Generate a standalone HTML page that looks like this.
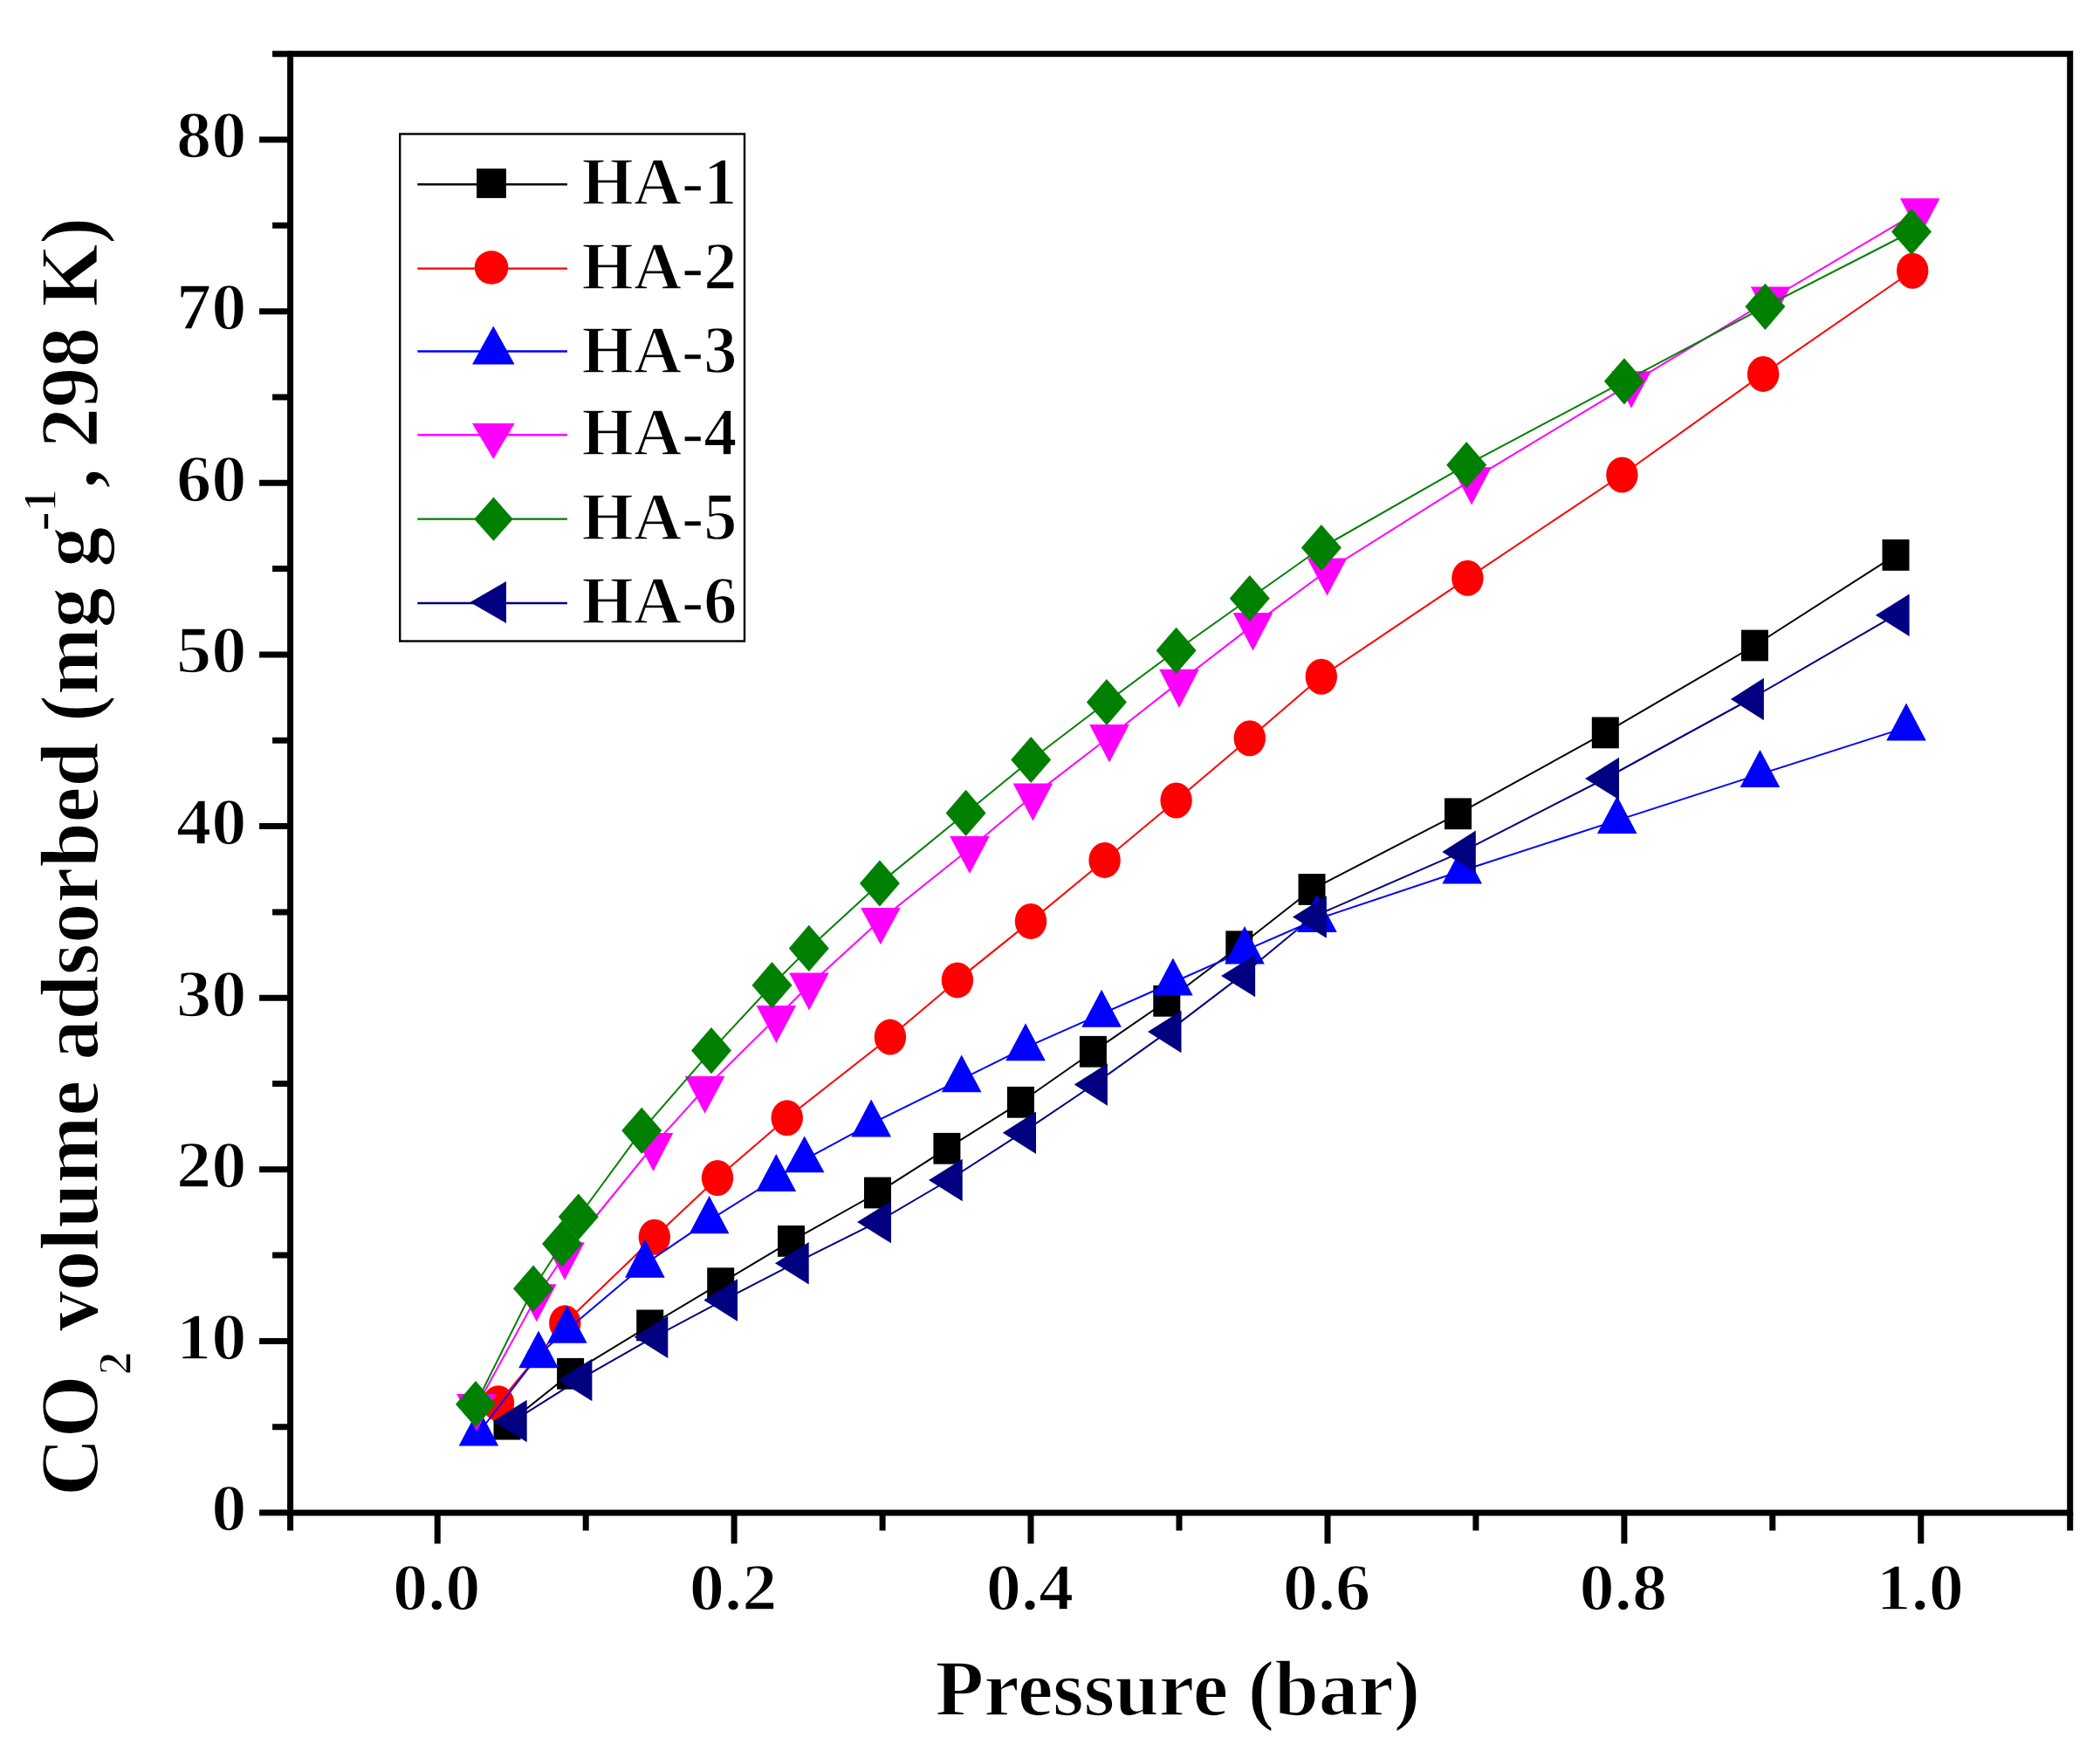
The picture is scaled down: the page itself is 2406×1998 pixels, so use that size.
<!DOCTYPE html>
<html><head><meta charset="utf-8"><title>CO2 adsorption isotherms</title>
<style>html,body{margin:0;padding:0;background:#fff;overflow:hidden}svg{display:block}</style>
</head><body>
<svg width="2406" height="1998" viewBox="0 0 2406 1998">
<rect width="2406" height="1998" fill="#ffffff"/>
<polyline fill="none" stroke="#000000" stroke-width="2.0" stroke-linejoin="round" points="581,1631.6 653.6,1573.8 744.7,1518.4 825.7,1470.2 906.5,1421.9 1005.5,1366.5 1084.9,1315.8 1169.4,1262.8 1252.4,1204.8 1336.8,1146.8 1419.8,1084.3 1503,1019 1670.5,932.3 1839.3,839.4 2010.4,739.5 2172,635.9"/>
<g fill="#000000"><rect x="565.5" y="1613.7" width="31" height="35.8"/><rect x="638.1" y="1555.9" width="31" height="35.8"/><rect x="729.2" y="1500.5" width="31" height="35.8"/><rect x="810.2" y="1452.3" width="31" height="35.8"/><rect x="891" y="1404" width="31" height="35.8"/><rect x="990" y="1348.6" width="31" height="35.8"/><rect x="1069.4" y="1297.9" width="31" height="35.8"/><rect x="1153.9" y="1244.9" width="31" height="35.8"/><rect x="1236.9" y="1186.9" width="31" height="35.8"/><rect x="1321.3" y="1128.9" width="31" height="35.8"/><rect x="1404.3" y="1066.4" width="31" height="35.8"/><rect x="1487.5" y="1001.1" width="31" height="35.8"/><rect x="1655" y="914.4" width="31" height="35.8"/><rect x="1823.8" y="821.5" width="31" height="35.8"/><rect x="1994.9" y="721.6" width="31" height="35.8"/><rect x="2156.5" y="618" width="31" height="35.8"/></g>
<polyline fill="none" stroke="#FF0000" stroke-width="2.0" stroke-linejoin="round" points="571,1607.7 647.3,1515.7 749.8,1417.3 822,1349.5 901.7,1280.7 1019.9,1188.1 1096.9,1122.9 1181,1055.4 1265.6,985.4 1347.6,917 1431.8,845.7 1513.8,775.2 1681.4,662.3 1858.4,544 2020.1,428.4 2191.2,310.2"/>
<g fill="#FF0000"><ellipse cx="571" cy="1607.7" rx="18.2" ry="20.5"/><ellipse cx="647.3" cy="1515.7" rx="18.2" ry="20.5"/><ellipse cx="749.8" cy="1417.3" rx="18.2" ry="20.5"/><ellipse cx="822" cy="1349.5" rx="18.2" ry="20.5"/><ellipse cx="901.7" cy="1280.7" rx="18.2" ry="20.5"/><ellipse cx="1019.9" cy="1188.1" rx="18.2" ry="20.5"/><ellipse cx="1096.9" cy="1122.9" rx="18.2" ry="20.5"/><ellipse cx="1181" cy="1055.4" rx="18.2" ry="20.5"/><ellipse cx="1265.6" cy="985.4" rx="18.2" ry="20.5"/><ellipse cx="1347.6" cy="917" rx="18.2" ry="20.5"/><ellipse cx="1431.8" cy="845.7" rx="18.2" ry="20.5"/><ellipse cx="1513.8" cy="775.2" rx="18.2" ry="20.5"/><ellipse cx="1681.4" cy="662.3" rx="18.2" ry="20.5"/><ellipse cx="1858.4" cy="544" rx="18.2" ry="20.5"/><ellipse cx="2020.1" cy="428.4" rx="18.2" ry="20.5"/><ellipse cx="2191.2" cy="310.2" rx="18.2" ry="20.5"/></g>
<polyline fill="none" stroke="#0000FF" stroke-width="2.0" stroke-linejoin="round" points="548.4,1641.5 617,1552.3 649.8,1523.6 738.9,1448.2 812.6,1398.1 889.3,1350 921.7,1328.6 998.2,1287.4 1101.7,1236.3 1175,1200.2 1262.1,1161.7 1343.9,1125.5 1426,1089.2 1509,1053 1675.2,997.5 1852.7,939.9 2016.5,886.9 2184,833.4"/>
<g fill="#0000FF"><polygon points="548.4,1613.5 571.2,1656.5 525.6,1656.5"/><polygon points="617,1524.5 639.8,1567.2 594.2,1567.2"/><polygon points="649.8,1495.6 672.6,1538.7 627,1538.7"/><polygon points="738.9,1419.5 761.7,1463.7 716.1,1463.7"/><polygon points="812.6,1370.1 835.4,1413.2 789.8,1413.2"/><polygon points="889.3,1322 912.1,1365.1 866.5,1365.1"/><polygon points="921.7,1301.4 944.5,1343.3 898.9,1343.3"/><polygon points="998.2,1259.5 1021,1302.4 975.4,1302.4"/><polygon points="1101.7,1208.5 1124.5,1251.2 1078.9,1251.2"/><polygon points="1175,1172.3 1197.8,1215.2 1152.2,1215.2"/><polygon points="1262.1,1133.8 1284.9,1176.7 1239.3,1176.7"/><polygon points="1343.9,1097.5 1366.7,1140.6 1321.1,1140.6"/><polygon points="1426,1061.1 1448.8,1104.4 1403.2,1104.4"/><polygon points="1509,1025.1 1531.8,1068.1 1486.2,1068.1"/><polygon points="1675.2,969.5 1698,1012.5 1652.4,1012.5"/><polygon points="1852.7,911.9 1875.5,954.9 1829.9,954.9"/><polygon points="2016.5,858.9 2039.3,902 1993.7,902"/><polygon points="2184,805.6 2206.8,848.4 2161.2,848.4"/></g>
<polyline fill="none" stroke="#FF00FF" stroke-width="2.0" stroke-linejoin="round" points="546,1611.1 614.8,1485.5 647,1437.5 748.5,1312.5 807.6,1247 889.4,1166.2 927,1128.8 1008.9,1053.9 1111,972.2 1183.4,911.6 1271,844.3 1351,781.4 1435.5,716.4 1520.5,653.8 1686,549.6 1869,439.2 2028.6,342.6 2199.7,241.5"/>
<g fill="#FF00FF"><polygon points="523.2,1596.9 568.8,1596.9 546,1639.8"/><polygon points="592,1471.3 637.6,1471.3 614.8,1514.3"/><polygon points="624.2,1423.3 669.8,1423.3 647,1466.4"/><polygon points="725.7,1298 771.3,1298 748.5,1342"/><polygon points="784.8,1232.9 830.4,1232.9 807.6,1275.7"/><polygon points="866.6,1152 912.2,1152 889.4,1195"/><polygon points="904.2,1114.6 949.8,1114.6 927,1157.6"/><polygon points="986.1,1040 1031.7,1040 1008.9,1082.2"/><polygon points="1088.2,958 1133.8,958 1111,1001"/><polygon points="1160.6,897.4 1206.2,897.4 1183.4,940.5"/><polygon points="1248.2,829.9 1293.8,829.9 1271,873.5"/><polygon points="1328.2,766.8 1373.8,766.8 1351,810.9"/><polygon points="1412.7,702.1 1458.3,702.1 1435.5,745.5"/><polygon points="1497.7,639.6 1543.3,639.6 1520.5,682.5"/><polygon points="1663.2,535.3 1708.8,535.3 1686,578.6"/><polygon points="1846.2,425.2 1891.8,425.2 1869,467.7"/><polygon points="2005.8,328.4 2051.4,328.4 2028.6,371.4"/><polygon points="2176.9,227.3 2222.5,227.3 2199.7,270.3"/></g>
<polyline fill="none" stroke="#008000" stroke-width="2.0" stroke-linejoin="round" points="545,1608.7 611,1476.2 644,1425 662.8,1394 735.2,1295.3 815,1203.6 884.5,1128.7 926.8,1086.4 1007.9,1012 1106.6,931.4 1181.2,870.5 1267.9,804.5 1347.6,745.3 1431.8,685.5 1513.9,627.5 1680.2,532.7 1860.9,436.8 2022.4,351.3 2190,265.5"/>
<g fill="#008000"><polygon points="545,1582.1 568,1608.7 545,1635.3 522,1608.7"/><polygon points="611,1449.6 634,1476.2 611,1502.8 588,1476.2"/><polygon points="644,1398.4 667,1425 644,1451.6 621,1425"/><polygon points="662.8,1367.4 685.8,1394 662.8,1420.6 639.8,1394"/><polygon points="735.2,1268.7 758.2,1295.3 735.2,1321.9 712.2,1295.3"/><polygon points="815,1177 838,1203.6 815,1230.2 792,1203.6"/><polygon points="884.5,1102.1 907.5,1128.7 884.5,1155.3 861.5,1128.7"/><polygon points="926.8,1059.8 949.8,1086.4 926.8,1113 903.8,1086.4"/><polygon points="1007.9,985.4 1030.9,1012 1007.9,1038.6 984.9,1012"/><polygon points="1106.6,904.8 1129.6,931.4 1106.6,958 1083.6,931.4"/><polygon points="1181.2,843.9 1204.2,870.5 1181.2,897.1 1158.2,870.5"/><polygon points="1267.9,777.9 1290.9,804.5 1267.9,831.1 1244.9,804.5"/><polygon points="1347.6,718.7 1370.6,745.3 1347.6,771.9 1324.6,745.3"/><polygon points="1431.8,658.9 1454.8,685.5 1431.8,712.1 1408.8,685.5"/><polygon points="1513.9,600.9 1536.9,627.5 1513.9,654.1 1490.9,627.5"/><polygon points="1680.2,506.1 1703.2,532.7 1680.2,559.3 1657.2,532.7"/><polygon points="1860.9,410.2 1883.9,436.8 1860.9,463.4 1837.9,436.8"/><polygon points="2022.4,324.7 2045.4,351.3 2022.4,377.9 1999.4,351.3"/><polygon points="2190,238.9 2213,265.5 2190,292.1 2167,265.5"/></g>
<polyline fill="none" stroke="#000080" stroke-width="2.0" stroke-linejoin="round" points="587.8,1628.1 662.5,1581.1 749.4,1531.7 829.2,1489.4 910.8,1447.2 1005,1400.1 1086.8,1352 1171.3,1297.7 1253.2,1242.5 1337.7,1182.1 1422.1,1117.9 1503.9,1050.5 1675,975.9 1839.1,892 2005.3,801 2171.7,704.7"/>
<g fill="#000080"><polygon points="564.9,1628.1 603.7,1603.8 603.7,1652.3"/><polygon points="639.7,1581.1 678.4,1556.8 678.4,1605.3"/><polygon points="726.6,1531.7 765.3,1507.5 765.3,1556"/><polygon points="806.4,1489.4 845,1465.2 845,1513.7"/><polygon points="888,1447.2 926.7,1423 926.7,1471.5"/><polygon points="982,1400.1 1021,1375.8 1021,1424.3"/><polygon points="1064,1352 1102.7,1327.8 1102.7,1376.2"/><polygon points="1148.8,1297.7 1187,1273.5 1187,1322"/><polygon points="1230.7,1242.5 1268.9,1218.2 1268.9,1266.8"/><polygon points="1315,1182.1 1353.5,1157.8 1353.5,1206.3"/><polygon points="1399.1,1117.9 1438.1,1093.7 1438.1,1142.2"/><polygon points="1481,1050.5 1519.8,1026.2 1519.8,1074.8"/><polygon points="1652.3,975.9 1690.8,951.6 1690.8,1000.1"/><polygon points="1816.1,892 1855,867.8 1855,916.2"/><polygon points="1982.9,801 2020.9,776.8 2020.9,825.2"/><polygon points="2148.9,704.7 2187.6,680.5 2187.6,729"/></g>
<g stroke="#000" stroke-width="7.0" fill="none" stroke-linecap="square">
<rect x="332.6" y="61.7" width="2039.1" height="1671.4" stroke-linecap="butt" stroke-linejoin="miter"/>
</g>
<path d="M297.1 1733.1H332.6M297.1 1536.5H332.6M297.1 1339.8H332.6M297.1 1143.2H332.6M297.1 946.6H332.6M297.1 749.9H332.6M297.1 553.3H332.6M297.1 356.7H332.6M297.1 160H332.6M312.1 1634.8H332.6M312.1 1438.1H332.6M312.1 1241.5H332.6M312.1 1044.9H332.6M312.1 848.2H332.6M312.1 651.6H332.6M312.1 455H332.6M312.1 258.3H332.6M312.1 61.7H332.6M501.2 1733.1V1768.6M841.1 1733.1V1768.6M1181 1733.1V1768.6M1521 1733.1V1768.6M1860.9 1733.1V1768.6M2200.8 1733.1V1768.6M332.6 1733.1V1753.6M671.2 1733.1V1753.6M1011.1 1733.1V1753.6M1351 1733.1V1753.6M1690.9 1733.1V1753.6M2030.8 1733.1V1753.6M2371.7 1733.1V1753.6" stroke="#000" stroke-width="7.0" fill="none"/>
<text font-family="'Liberation Serif', 'Times New Roman', serif" font-weight="bold" stroke="#fff" stroke-width="1.6" font-size="77.0" text-anchor="end" transform="translate(282.4 1753.4) scale(1.045 1)">0</text>
<text font-family="'Liberation Serif', 'Times New Roman', serif" font-weight="bold" stroke="#fff" stroke-width="1.6" font-size="77.0" text-anchor="end" transform="translate(282.4 1556.8) scale(1.045 1)">10</text>
<text font-family="'Liberation Serif', 'Times New Roman', serif" font-weight="bold" stroke="#fff" stroke-width="1.6" font-size="77.0" text-anchor="end" transform="translate(282.4 1360.1) scale(1.045 1)">20</text>
<text font-family="'Liberation Serif', 'Times New Roman', serif" font-weight="bold" stroke="#fff" stroke-width="1.6" font-size="77.0" text-anchor="end" transform="translate(282.4 1163.5) scale(1.045 1)">30</text>
<text font-family="'Liberation Serif', 'Times New Roman', serif" font-weight="bold" stroke="#fff" stroke-width="1.6" font-size="77.0" text-anchor="end" transform="translate(282.4 966.9) scale(1.045 1)">40</text>
<text font-family="'Liberation Serif', 'Times New Roman', serif" font-weight="bold" stroke="#fff" stroke-width="1.6" font-size="77.0" text-anchor="end" transform="translate(282.4 770.2) scale(1.045 1)">50</text>
<text font-family="'Liberation Serif', 'Times New Roman', serif" font-weight="bold" stroke="#fff" stroke-width="1.6" font-size="77.0" text-anchor="end" transform="translate(282.4 573.6) scale(1.045 1)">60</text>
<text font-family="'Liberation Serif', 'Times New Roman', serif" font-weight="bold" stroke="#fff" stroke-width="1.6" font-size="77.0" text-anchor="end" transform="translate(282.4 377) scale(1.045 1)">70</text>
<text font-family="'Liberation Serif', 'Times New Roman', serif" font-weight="bold" stroke="#fff" stroke-width="1.6" font-size="77.0" text-anchor="end" transform="translate(282.4 180.3) scale(1.045 1)">80</text>
<text font-family="'Liberation Serif', 'Times New Roman', serif" font-weight="bold" stroke="#fff" stroke-width="1.6" font-size="77.0" text-anchor="middle" transform="translate(500.2 1843.7) scale(1.045 1)">0.0</text>
<text font-family="'Liberation Serif', 'Times New Roman', serif" font-weight="bold" stroke="#fff" stroke-width="1.6" font-size="77.0" text-anchor="middle" transform="translate(840.1 1843.7) scale(1.045 1)">0.2</text>
<text font-family="'Liberation Serif', 'Times New Roman', serif" font-weight="bold" stroke="#fff" stroke-width="1.6" font-size="77.0" text-anchor="middle" transform="translate(1180 1843.7) scale(1.045 1)">0.4</text>
<text font-family="'Liberation Serif', 'Times New Roman', serif" font-weight="bold" stroke="#fff" stroke-width="1.6" font-size="77.0" text-anchor="middle" transform="translate(1520 1843.7) scale(1.045 1)">0.6</text>
<text font-family="'Liberation Serif', 'Times New Roman', serif" font-weight="bold" stroke="#fff" stroke-width="1.6" font-size="77.0" text-anchor="middle" transform="translate(1859.9 1843.7) scale(1.045 1)">0.8</text>
<text font-family="'Liberation Serif', 'Times New Roman', serif" font-weight="bold" stroke="#fff" stroke-width="1.6" font-size="77.0" text-anchor="middle" transform="translate(2199.8 1843.7) scale(1.045 1)">1.0</text>
<text font-family="'Liberation Serif', 'Times New Roman', serif" font-weight="bold" stroke="#fff" stroke-width="1.6" font-size="92" transform="translate(1071.5 1965.1) scale(0.99 1)">Pressure (bar)</text>
<g transform="translate(112.4 1714) rotate(-90)">
<text font-family="'Liberation Serif', 'Times New Roman', serif" font-weight="bold" stroke="#fff" stroke-width="1.6" font-size="94.5" transform="scale(0.978 1)">CO<tspan font-size="55.5" dy="37.1">2</tspan><tspan dy="-37.1"> volume adsorbed (mg g</tspan><tspan font-size="72" dx="-5.5" dy="-42.2">-</tspan><tspan font-size="55.5" dx="-1.1" dy="-6">1</tspan><tspan dy="48.2">, 298 K)</tspan></text>
</g>
<rect x="458.2" y="153.5" width="394.8" height="581" fill="#fff" stroke="#000" stroke-width="2.4"/>
<path d="M478.3 211.3H649.9" stroke="#000000" stroke-width="2.4"/>
<rect x="546.1" y="193.2" width="33.8" height="33.7" fill="#000000"/>
<text font-family="'Liberation Serif', 'Times New Roman', serif" font-weight="bold" stroke="#fff" stroke-width="1.6" font-size="79" transform="translate(666.6 234.3) scale(0.965 1)">HA-1</text>
<path d="M478.3 307.6H649.9" stroke="#FF0000" stroke-width="2.4"/>
<circle cx="563" cy="306.5" r="19.3" fill="#FF0000"/>
<text font-family="'Liberation Serif', 'Times New Roman', serif" font-weight="bold" stroke="#fff" stroke-width="1.6" font-size="79" transform="translate(666.6 330.7) scale(0.965 1)">HA-2</text>
<path d="M478.3 402.5H649.9" stroke="#0000FF" stroke-width="2.4"/>
<polygon points="565.3,373.6 589.6,417.6 541,417.6" fill="#0000FF"/>
<text font-family="'Liberation Serif', 'Times New Roman', serif" font-weight="bold" stroke="#fff" stroke-width="1.6" font-size="79" transform="translate(666.6 427) scale(0.965 1)">HA-3</text>
<path d="M478.3 498.2H649.9" stroke="#FF00FF" stroke-width="2.4"/>
<polygon points="541,485 589.6,485 565.3,525.9" fill="#FF00FF"/>
<text font-family="'Liberation Serif', 'Times New Roman', serif" font-weight="bold" stroke="#fff" stroke-width="1.6" font-size="79" transform="translate(666.6 521.3) scale(0.965 1)">HA-4</text>
<path d="M478.3 594.6H649.9" stroke="#008000" stroke-width="2.4"/>
<polygon points="565.5,569.5 587.7,594.7 565.5,619.8 543.3,594.7" fill="#008000"/>
<text font-family="'Liberation Serif', 'Times New Roman', serif" font-weight="bold" stroke="#fff" stroke-width="1.6" font-size="79" transform="translate(666.6 617.7) scale(0.965 1)">HA-5</text>
<path d="M478.3 691H649.9" stroke="#000080" stroke-width="2.4"/>
<polygon points="538.5,690 580,665.9 580,714" fill="#000080"/>
<text font-family="'Liberation Serif', 'Times New Roman', serif" font-weight="bold" stroke="#fff" stroke-width="1.6" font-size="79" transform="translate(666.6 713.6) scale(0.965 1)">HA-6</text>
</svg>
</body></html>
